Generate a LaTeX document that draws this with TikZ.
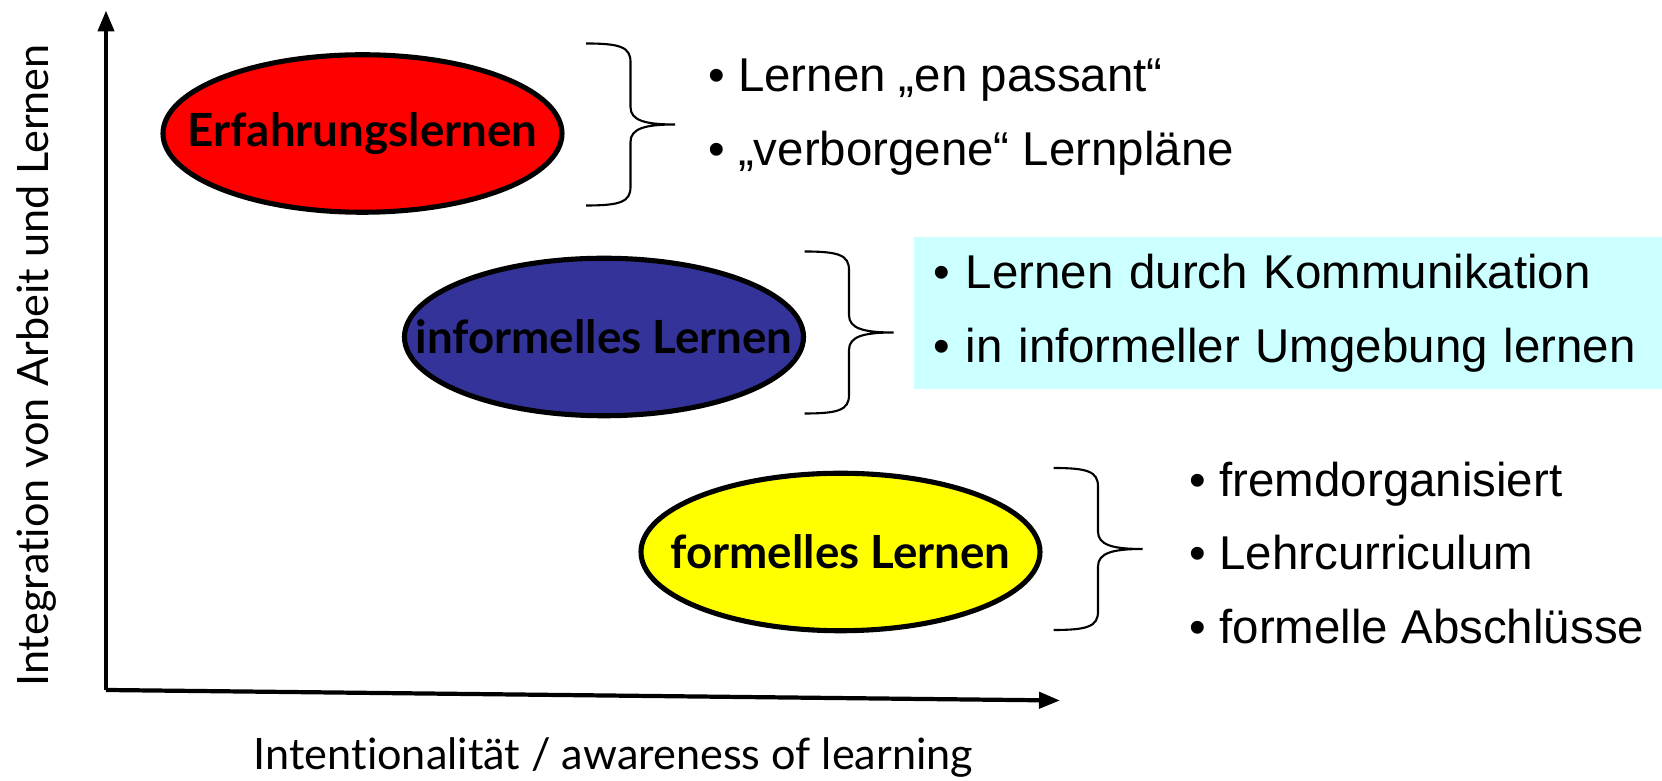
\documentclass[tikz,border=0pt]{standalone}
\usepackage{fontspec}
\setmainfont{Liberation Sans}
\newfontfamily\gillfont[Ligatures=NoCommon]{Lato}
\usetikzlibrary{arrows.meta,shapes.geometric,positioning}
\definecolor{lernrot}{HTML}{FF0000}
\definecolor{lernblau}{HTML}{333399}
\definecolor{lerngelb}{HTML}{FFFF00}
\definecolor{boxcyan}{HTML}{CCFFFF}

\begin{document}
\begin{tikzpicture}[
    form/.style={draw, ellipse, line width=2.9pt, minimum width=7.98cm, minimum height=3.15cm, inner sep=0pt},
    formtext/.style={inner sep=0pt, font=\gillfont\bfseries\fontsize{26}{30}\selectfont},
    liste/.style={align=left, inner sep=0pt, anchor=west, font=\fontsize{27}{42}\selectfont},
    achse/.style={-{Triangle[length=0.42cm,width=0.32cm]}, line width=2.4pt},
    axlabel/.style={font=\gillfont\fontsize{24.6}{28}\selectfont},
    curly/.pic={
        \draw[line width=1.2pt] (-1.78,1.62) .. controls (-1.1,1.62) and (-0.89,1.55) .. (-0.89,1.25)
            -- (-0.89,0.35) .. controls (-0.89,0.08) and (-0.6,0) .. (0,0)
            .. controls (-0.6,0) and (-0.89,-0.08) .. (-0.89,-0.35)
            -- (-0.89,-1.25) .. controls (-0.89,-1.55) and (-1.1,-1.62) .. (-1.78,-1.62);
    }
]
\useasboundingbox (0,0) rectangle (33.24,15.62);

% axes
\coordinate (origin) at (2.12,1.82);
\coordinate (ytip) at (2.12,15.41);
\coordinate (xtip) at (21.2,1.61);
\draw[achse] (origin) -- (ytip);
\draw[achse] (origin) -- (xtip);
\node[axlabel, rotate=90] (ylab) at (0.74,8.31) {Integration von Arbeit und Lernen};
\node[axlabel] (xlab) at (12.27,0.47) {Intentionalität / awareness of learning};

% forms of learning
\node[form, fill=lernrot, label={[formtext]center:Erfahrungslernen}] (erf) at (7.25,12.95) {};
\node[form, fill=lernblau, label={[formtext]center:informelles Lernen}] (inf) at (12.08,8.88) {};
\node[form, fill=lerngelb, label={[formtext]center:formelles Lernen}] (for) at (16.81,4.58) {};

% braces
\pic at (13.50,13.13) {curly};
\pic at (17.87,8.97) {curly};
\pic at (22.85,4.64) {curly};

% lists
\node[liste] (l1) at (14.16,13.28) {• Lernen „en passant“\\• „verborgene“ Lernpläne};
\node[liste, fill=boxcyan, anchor=north west, minimum width=14.97cm, minimum height=3.04cm,
      text width=14.19cm, inner xsep=0.39cm] (l2) at (18.27,10.88)
      {• Lernen durch Kommunikation\\• in informeller Umgebung lernen};
\node[liste] (l3) at (23.79,4.56) {• fremdorganisiert\\• Lehrcurriculum\\• formelle Abschlüsse};
\end{tikzpicture}
\end{document}
